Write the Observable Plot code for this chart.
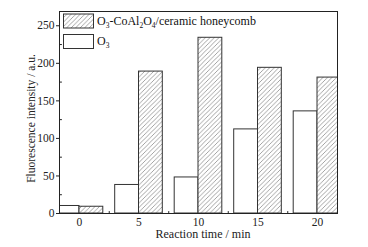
<!DOCTYPE html>
<html>
<head>
<meta charset="utf-8">
<script src="https://cdn.jsdelivr.net/npm/d3@7"></script>
<script src="https://cdn.jsdelivr.net/npm/@observablehq/plot@0.6"></script>
<style>
  html, body { margin: 0; padding: 0; background: #fff; }
  #chart svg { display: block; }
  #chart svg, #chart svg text { font-family: "Liberation Serif", "Times New Roman", "DejaVu Serif", serif !important; }
</style>
</head>
<body>
<div id="chart"></div>
<script>
const times = [0, 5, 10, 15, 20];
const o3 = [10, 38, 48, 112, 136];
const o3Catalyst = [9, 189, 234, 194, 181];
const xTicks = [0, 5, 10, 15, 20];
const xMinor = [2.5, 7.5, 12.5, 17.5];
const yTicks = [0, 50, 100, 150, 200, 250];
const yMinor = [25, 75, 125, 175, 225];
const xLabel = "Reaction time / min";
const yLabel = "Fluorescence intensity / a.u.";

const barHalf = 2;
const dataO3 = times.map((t, i) => ({t, v: o3[i]}));
const dataCat = times.map((t, i) => ({t, v: o3Catalyst[i]}));

const font = "'Liberation Serif', 'Times New Roman', serif";
const spike = {draw(ctx, l) { ctx.moveTo(0, 0); ctx.lineTo(0, -l); }};

const chart = Plot.plot({
  width: 368,
  height: 247,
  marginLeft: 59,
  marginRight: 31,
  marginTop: 11,
  marginBottom: 34,
  style: {fontFamily: font, fontSize: "11.5px", color: "#222", background: "#fff"},
  x: {domain: [-1.68, 21.68]},
  y: {domain: [0, 269]},
  marks: [
    Plot.rect(dataO3, {x1: d => d.t - barHalf, x2: d => d.t, y1: 0, y2: "v", fill: "white", stroke: "#333", strokeWidth: 1, clip: true}),
    Plot.rect(dataCat, {x1: d => d.t, x2: d => d.t + barHalf, y1: 0, y2: "v", fill: "url(#hatch)", stroke: "#333", strokeWidth: 1, clip: true}),
    Plot.frame({stroke: "#222", strokeWidth: 1}),
    Plot.axisX(xTicks, {tickSize: 0, tickPadding: 4, label: null, fontSize: 11.5}),
    Plot.axisY(yTicks, {tickSize: 3, tickPadding: 2, stroke: "#222", label: null, fontSize: 11.5}),
    Plot.text([xLabel], {frameAnchor: "bottom", textAnchor: "middle", lineAnchor: "middle", dy: 21, dx: 4.5, fontSize: 12, fill: "#222"}),
    Plot.text([yLabel], {frameAnchor: "left", textAnchor: "middle", rotate: -90, lineAnchor: "middle", dx: -28, dy: 6, fontSize: 11.5, fill: "#222"}),
    Plot.vector(xMinor, {x: d => d, frameAnchor: "bottom", length: 2, anchor: "start", shape: spike, stroke: "#222", strokeWidth: 1}),
    Plot.vector(yMinor, {y: d => d, frameAnchor: "left", length: 2, rotate: 90, anchor: "start", shape: spike, stroke: "#222", strokeWidth: 1})
  ]
});

const svg = d3.select(chart);
const defs = svg.insert("defs", ":first-child");
const pat = defs.append("pattern").attr("id", "hatch").attr("patternUnits", "userSpaceOnUse")
  .attr("width", 4.5).attr("height", 4.5);
pat.append("rect").attr("width", 4.5).attr("height", 4.5).attr("fill", "white");
pat.append("path").attr("d", "M-1,1 l2,-2 M0,4.5 l4.5,-4.5 M3.5,5.5 l2,-2")
  .attr("stroke", "#666").attr("stroke-width", 0.6);

// legend
const lg = svg.append("g").attr("font-family", font).attr("font-size", 12).attr("fill", "#111").attr("text-anchor", "start");
const rows = [{y: 14, fill: "url(#hatch)"}, {y: 34.5, fill: "white"}];
rows.forEach(r => {
  lg.append("rect").attr("x", 63.5).attr("y", r.y).attr("width", 30).attr("height", 14)
    .attr("fill", r.fill).attr("stroke", "#333").attr("stroke-width", 1);
});
function sub(textSel, parts) {
  parts.forEach(p => {
    const ts = textSel.append("tspan").text(p[0]);
    if (p[1]) ts.attr("font-size", 7.5).attr("dy", 3);
    else if (p[2]) ts.attr("dy", -3);
  });
}
const t1 = lg.append("text").attr("x", 97).attr("y", 25);
sub(t1, [["O"], ["3", true], ["-CoAl", false, true], ["2", true], ["O", false, true], ["4", true], ["/ceramic honeycomb", false, true]]);
const t2 = lg.append("text").attr("x", 97).attr("y", 45);
sub(t2, [["O"], ["3", true]]);

document.getElementById("chart").appendChild(chart);
</script>
</body>
</html>
